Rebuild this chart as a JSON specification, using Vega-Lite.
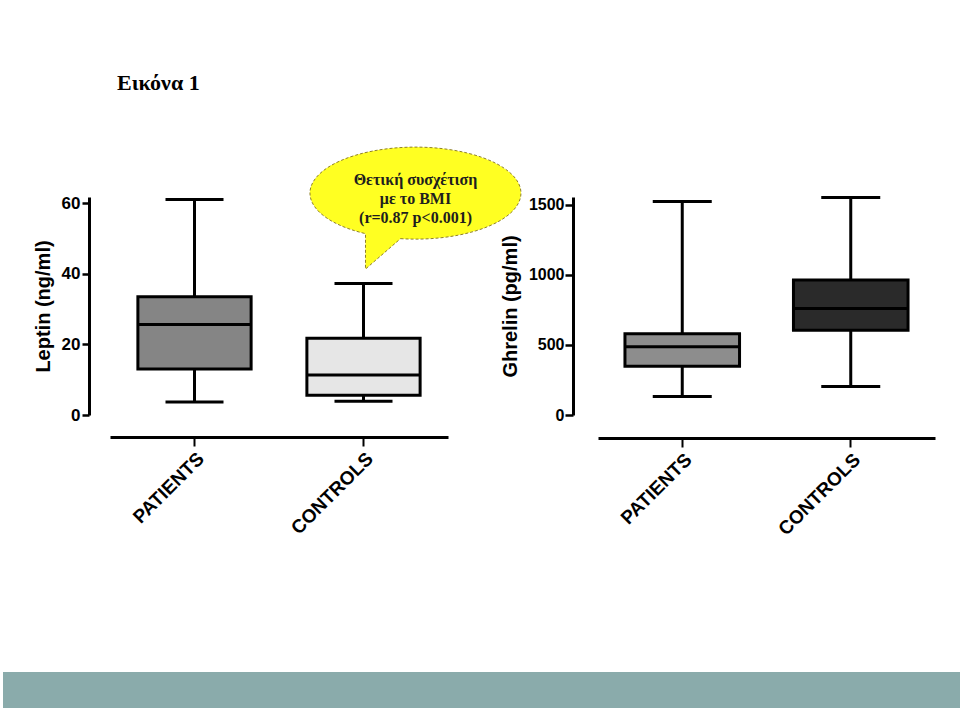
{
  "$schema": "https://vega.github.io/schema/vega-lite/v6.json",
  "padding": {"left": 3, "top": 72, "right": 3, "bottom": 4},
  "background": "white",
  "title": {"text": "Εικόνα 1", "anchor": "start", "font": "Liberation Serif", "fontSize": 22, "fontWeight": "bold", "color": "black", "dx": 114, "offset": 50},
  "spacing": 133,
  "center": true,
  "datasets": {
    "leptin": [
      {"group": "PATIENTS", "min": 3.7, "q1": 13, "median": 25.6, "q3": 33.5, "max": 61},
      {"group": "CONTROLS", "min": 3.9, "q1": 5.6, "median": 11.3, "q3": 21.7, "max": 37.2}
    ],
    "ghrelin": [
      {"group": "PATIENTS", "min": 133, "q1": 348, "median": 488, "q3": 580, "max": 1524},
      {"group": "CONTROLS", "min": 204, "q1": 605, "median": 760, "q3": 964, "max": 1553}
    ]
  },
  "vconcat": [
    {
      "hconcat": [
        {
          "width": 338,
          "height": 218,
          "data": {"name": "leptin"},
          "encoding": {
            "x": {"field": "group", "type": "nominal", "sort": ["PATIENTS", "CONTROLS"], "scale": {"paddingInner": 0, "paddingOuter": 0},
              "axis": {"title": null, "labelAngle": -45, "offset": 22, "domainWidth": 3, "tickWidth": 2, "tickSize": 9, "labelFontSize": 19, "labelFontWeight": "bold", "labelPadding": 3}}
          },
          "layer": [
            {
              "mark": {"type": "rule", "color": "black", "strokeWidth": 3},
              "encoding": {
                "y": {"field": "min", "type": "quantitative", "scale": {"domain": [0, 61.7], "nice": false, "zero": true},
                  "axis": {"title": "Leptin (ng/ml)", "values": [0, 20, 40, 60], "format": "d", "offset": 21, "domainWidth": 3, "tickWidth": 2.5, "tickSize": 7, "labelPadding": 2, "labelFontSize": 17, "labelFontWeight": "bold", "titleFontSize": 20, "titleFontWeight": "bold", "titlePadding": 8}},
                "y2": {"field": "max"}
              }
            },
            {
              "mark": {"type": "bar", "stroke": "black", "strokeWidth": 3, "opacity": 1, "width": {"band": 0.67}},
              "encoding": {
                "y": {"field": "q1", "type": "quantitative"},
                "y2": {"field": "q3"},
                "fill": {"field": "group", "type": "nominal", "scale": {"domain": ["PATIENTS", "CONTROLS"], "range": ["#858585", "#e6e6e6"]}, "legend": null}
              }
            },
            {
              "mark": {"type": "tick", "color": "black", "opacity": 1, "size": 113, "thickness": 3},
              "encoding": {"y": {"field": "median", "type": "quantitative"}}
            },
            {
              "mark": {"type": "tick", "color": "black", "opacity": 1, "size": 58, "thickness": 3},
              "encoding": {"y": {"field": "min", "type": "quantitative"}}
            },
            {
              "mark": {"type": "tick", "color": "black", "opacity": 1, "size": 58, "thickness": 3},
              "encoding": {"y": {"field": "max", "type": "quantitative"}}
            },
            {
              "data": {"values": [{"note": "bubble"}]},
              "mark": {"type": "point", "shape": "M -0.142 0.4316 A 1 0.436 0 1 0 -0.474 0.384 L -0.474 0.72 Z", "size": 44521, "filled": true, "fill": "#ffff22", "stroke": "#8f7f2a", "strokeWidth": 1, "strokeDash": [3, 2], "opacity": 1, "xOffset": 52},
              "encoding": {
                "x": {"datum": "CONTROLS", "type": "nominal"},
                "y": {"datum": 62.8, "type": "quantitative"}
              }
            },
            {
              "data": {"values": [{"note": "bubble"}]},
              "mark": {"type": "text", "font": "Liberation Serif", "fontSize": 16, "fontWeight": "bold", "color": "#1e1e1e", "align": "center", "baseline": "middle", "lineHeight": 19, "xOffset": 52},
              "encoding": {
                "x": {"datum": "CONTROLS", "type": "nominal"},
                "y": {"datum": 66.5, "type": "quantitative"},
                "text": {"value": ["Θετική συσχέτιση", "με το BMI", "(r=0.87 p<0.001)"]}
              }
            }
          ]
        },
        {
          "width": 337,
          "height": 218,
          "data": {"name": "ghrelin"},
          "encoding": {
            "x": {"field": "group", "type": "nominal", "sort": ["PATIENTS", "CONTROLS"], "scale": {"paddingInner": 0, "paddingOuter": 0},
              "axis": {"title": null, "labelAngle": -45, "offset": 23, "domainWidth": 3, "tickWidth": 2, "tickSize": 9, "labelFontSize": 19, "labelFontWeight": "bold", "labelPadding": 3}}
          },
          "layer": [
            {
              "mark": {"type": "rule", "color": "black", "strokeWidth": 3},
              "encoding": {
                "y": {"field": "min", "type": "quantitative", "scale": {"domain": [0, 1557], "nice": false, "zero": true},
                  "axis": {"title": "Ghrelin (pg/ml)", "values": [0, 500, 1000, 1500], "format": "d", "offset": 25, "domainWidth": 3, "tickWidth": 2.5, "tickSize": 8, "labelPadding": 1, "labelFontSize": 16, "labelFontWeight": "bold", "titleFontSize": 20, "titleFontWeight": "bold", "titlePadding": 8}},
                "y2": {"field": "max"}
              }
            },
            {
              "mark": {"type": "bar", "stroke": "black", "strokeWidth": 3, "opacity": 1, "width": {"band": 0.68}},
              "encoding": {
                "y": {"field": "q1", "type": "quantitative"},
                "y2": {"field": "q3"},
                "fill": {"field": "group", "type": "nominal", "scale": {"domain": ["PATIENTS", "CONTROLS"], "range": ["#8d8d8d", "#2a2a2a"]}, "legend": null}
              }
            },
            {
              "mark": {"type": "tick", "color": "black", "opacity": 1, "size": 115, "thickness": 3},
              "encoding": {"y": {"field": "median", "type": "quantitative"}}
            },
            {
              "mark": {"type": "tick", "color": "black", "opacity": 1, "size": 59, "thickness": 3},
              "encoding": {"y": {"field": "min", "type": "quantitative"}}
            },
            {
              "mark": {"type": "tick", "color": "black", "opacity": 1, "size": 59, "thickness": 3},
              "encoding": {"y": {"field": "max", "type": "quantitative"}}
            }
          ]
        }
      ],
      "spacing": 150,
      "bounds": "flush",
      "resolve": {"scale": {"fill": "independent"}}
    },
    {
      "width": 1039,
      "height": 36,
      "view": {"fill": "#8aabab", "stroke": null},
      "data": {"values": [{"note": "footer"}]},
      "mark": {"type": "text"},
      "encoding": {"text": {"value": ""}}
    }
  ],
  "config": {
    "view": {"stroke": null},
    "axis": {"grid": false, "domainColor": "black", "tickColor": "black", "labelColor": "black", "titleColor": "black", "labelFont": "Liberation Sans", "titleFont": "Liberation Sans"}
  }
}
